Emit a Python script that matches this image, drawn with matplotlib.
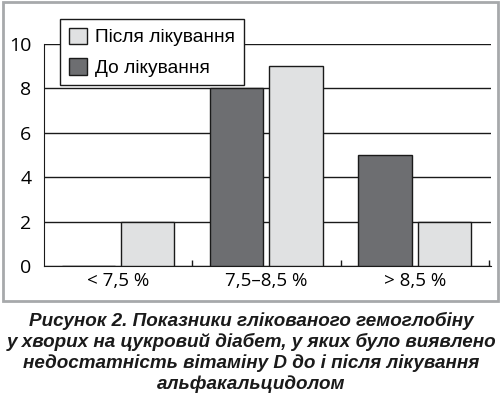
import numpy as np
import matplotlib
matplotlib.use("Agg")
import matplotlib.pyplot as plt
from matplotlib.patches import Rectangle

# data
categories = ["< 7,5 %", "7,5–8,5 %", "> 8,5 %"]
before = [0, 8, 5]      # До лікування
after = [2, 9, 2]       # Після лікування
yticks = [0, 2, 4, 6, 8, 10]
caption = ("Рисунок 2. Показники глікованого гемоглобіну\n"
           "у хворих на цукровий діабет, у яких було виявлено\n"
           "недостатність вітаміну D до і після лікування\n"
           "альфакальцидолом")

dark = "#6d6e71"
light = "#e0e1e2"

W, H = 503, 394
fig = plt.figure(figsize=(W / 100, H / 100), dpi=100)

# grey frame round the chart
fig.patches.append(Rectangle((3 / W, 1 - 301 / H), 495 / W, 299 / H,
                             transform=fig.transFigure, fill=False,
                             edgecolor="#a7a9ab", lw=2))

ax = fig.add_axes([44 / W, 1 - 266 / H, 447 / W, 222 / H])
x = np.arange(len(categories))
w = 0.36
ax.bar(x - 0.2, before, w, color=dark, edgecolor="#1a1a1a", lw=1, zorder=3,
       label="До лікування")
ax.bar(x + 0.2, after, w, color=light, edgecolor="#1a1a1a", lw=1, zorder=3,
       label="Після лікування")

ax.set_xlim(-0.5, 2.515)
ax.set_ylim(0, 10)
ax.set_yticks(yticks)
ax.set_yticklabels([str(v) for v in yticks], family="Open Sans", fontsize=14)
ax.yaxis.grid(True, color="#1a1a1a", lw=1, zorder=0)
ax.set_axisbelow(True)
ax.tick_params(axis="y", length=0, pad=9)

ax.set_xticks(x)
ax.set_xticklabels(categories, family="Open Sans", fontsize=13.5)
ax.tick_params(axis="x", length=0, pad=4)
ax.set_xticks([0.5, 1.5, 2.5], minor=True)
ax.tick_params(axis="x", which="minor", direction="in", length=4, width=1,
               color="#1a1a1a")

for s in ["top", "right"]:
    ax.spines[s].set_visible(False)
ax.spines["left"].set_color("#1a1a1a")
ax.spines["bottom"].set_color("#1a1a1a")

h, l = ax.get_legend_handles_labels()
leg = fig.legend(h[::-1], l[::-1], loc="upper left",
                 bbox_to_anchor=(60 / W, 1 - 19 / H), borderaxespad=0,
                 prop={"family": "Liberation Sans", "size": 13.8},
                 handlelength=0.95, handleheight=0.95, handletextpad=0.45,
                 labelspacing=0.6, borderpad=0.45, fancybox=False,
                 framealpha=1)
leg.get_frame().set_edgecolor("#1a1a1a")
leg.get_frame().set_linewidth(1)

fig.text(0.5, 1 - 312 / H, caption, ha="center", va="top",
         family="Liberation Sans", fontsize=13.6, weight="bold",
         style="italic", linespacing=1.22, color="#1a1a1a")

fig.savefig("out.png", dpi=100)
